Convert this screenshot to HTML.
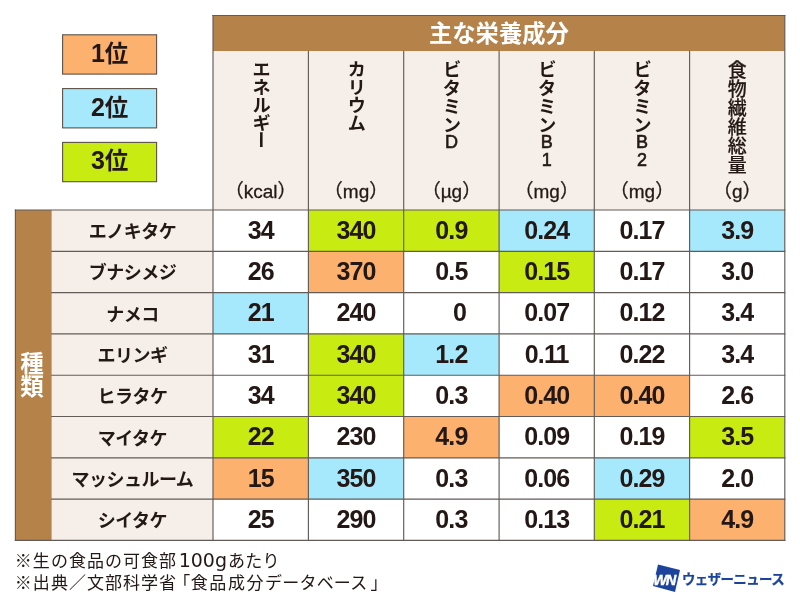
<!DOCTYPE html>
<html lang="ja"><head><meta charset="utf-8"><title>きのこの主な栄養成分</title>
<style>
html,body{margin:0;padding:0;background:#fff;}
body{width:800px;height:600px;position:relative;overflow:hidden;font-family:"Liberation Sans","Noto Sans CJK JP",sans-serif;color:#231815;}
.a{position:absolute;box-sizing:border-box;}
.lg{left:62.6px;width:94px;text-align:center;font-weight:700;font-size:23.5px;line-height:37px;white-space:nowrap;}
.lg b{font-size:25px;font-weight:700;}
.hd{color:#fff;font-weight:700;font-size:23.3px;text-align:center;line-height:33px;font-family:"Noto Sans CJK JP",sans-serif;}
.vt{writing-mode:vertical-rl;text-orientation:upright;font-family:"Noto Sans CJK JP","Liberation Sans",sans-serif;font-weight:700;white-space:nowrap;}
.k{font-size:18.5px;letter-spacing:-0.7px;}
.j{font-size:19px;letter-spacing:0;font-weight:500;-webkit-text-stroke:0.2px #231815;}
.lt{font-weight:400;-webkit-text-stroke:0.6px #231815;font-size:18px;line-height:20px;text-align:center;}
.un{font-size:19px;-webkit-text-stroke:0.3px #231815;text-align:center;white-space:nowrap;line-height:24px;}
.nm{font-family:"Noto Sans CJK JP",sans-serif;font-weight:700;font-size:18px;letter-spacing:-0.5px;text-align:center;white-space:nowrap;}
.v{font-weight:700;font-size:25px;letter-spacing:-0.9px;text-align:center;white-space:nowrap;}
.sy{color:#fff;font-weight:700;font-size:23.5px;text-align:center;}
.ft{left:14.8px;font-size:17px;font-family:"Noto Sans CJK JP",sans-serif;font-weight:400;white-space:nowrap;line-height:22px;letter-spacing:1.04px;}
.ft .n{font-family:"DejaVu Sans",sans-serif;font-size:19px;letter-spacing:0;line-height:10px;margin-left:1.5px;}
.ft .hk{letter-spacing:0.3px;margin-left:1px;}
.ft .br{margin-left:-3.9px;letter-spacing:0.5px;}
.ft .kj{letter-spacing:1.56px;}
.ft .kk{letter-spacing:0.2px;}
.ft .bl{margin-left:3px;}
</style></head>
<body>
<svg class="a" style="left:0;top:0" width="800" height="600" viewBox="0 0 800 600">
<rect x="62.60" y="34.80" width="94.00" height="39.30" fill="#fcb16f" stroke="#5e5146" stroke-width="1.1"/>
<rect x="62.60" y="88.60" width="94.00" height="39.30" fill="#a6e8fc" stroke="#5e5146" stroke-width="1.1"/>
<rect x="62.60" y="142.40" width="94.00" height="39.30" fill="#c8eb12" stroke="#5e5146" stroke-width="1.1"/>
<rect x="213.00" y="15.50" width="571.80" height="35.70" fill="#b5834a"/>
<rect x="213.00" y="51.20" width="571.80" height="158.80" fill="#f6eee8"/>
<rect x="15.40" y="210.00" width="36.40" height="330.40" fill="#b5834a"/>
<rect x="51.80" y="210.00" width="161.20" height="330.40" fill="#f6eee8"/>
<rect x="308.40" y="210.00" width="95.30" height="41.30" fill="#c8eb12"/>
<rect x="403.70" y="210.00" width="95.40" height="41.30" fill="#c8eb12"/>
<rect x="499.10" y="210.00" width="95.20" height="41.30" fill="#a6e8fc"/>
<rect x="689.60" y="210.00" width="95.20" height="41.30" fill="#a6e8fc"/>
<rect x="308.40" y="251.30" width="95.30" height="41.30" fill="#fcb16f"/>
<rect x="499.10" y="251.30" width="95.20" height="41.30" fill="#c8eb12"/>
<rect x="213.00" y="292.60" width="95.40" height="41.30" fill="#a6e8fc"/>
<rect x="308.40" y="333.90" width="95.30" height="41.30" fill="#c8eb12"/>
<rect x="403.70" y="333.90" width="95.40" height="41.30" fill="#a6e8fc"/>
<rect x="308.40" y="375.20" width="95.30" height="41.30" fill="#c8eb12"/>
<rect x="499.10" y="375.20" width="95.20" height="41.30" fill="#fcb16f"/>
<rect x="594.30" y="375.20" width="95.30" height="41.30" fill="#fcb16f"/>
<rect x="213.00" y="416.50" width="95.40" height="41.30" fill="#c8eb12"/>
<rect x="403.70" y="416.50" width="95.40" height="41.30" fill="#fcb16f"/>
<rect x="689.60" y="416.50" width="95.20" height="41.30" fill="#c8eb12"/>
<rect x="213.00" y="457.80" width="95.40" height="41.30" fill="#fcb16f"/>
<rect x="308.40" y="457.80" width="95.30" height="41.30" fill="#a6e8fc"/>
<rect x="594.30" y="457.80" width="95.30" height="41.30" fill="#a6e8fc"/>
<rect x="594.30" y="499.10" width="95.30" height="41.30" fill="#c8eb12"/>
<rect x="689.60" y="499.10" width="95.20" height="41.30" fill="#fcb16f"/>
<g stroke="#625b57" stroke-width="1.15" stroke-linecap="square">
<line x1="213.00" y1="15.50" x2="213.00" y2="540.40"/>
<line x1="308.40" y1="51.20" x2="308.40" y2="540.40"/>
<line x1="403.70" y1="51.20" x2="403.70" y2="540.40"/>
<line x1="499.10" y1="51.20" x2="499.10" y2="540.40"/>
<line x1="594.30" y1="51.20" x2="594.30" y2="540.40"/>
<line x1="689.60" y1="51.20" x2="689.60" y2="540.40"/>
<line x1="784.80" y1="15.50" x2="784.80" y2="540.40"/>
<line x1="15.40" y1="210.00" x2="15.40" y2="540.40"/>
<line x1="213.00" y1="15.50" x2="784.80" y2="15.50"/>
<line x1="15.40" y1="210.00" x2="784.80" y2="210.00"/>
<line x1="51.80" y1="251.30" x2="784.80" y2="251.30"/>
<line x1="51.80" y1="292.60" x2="784.80" y2="292.60"/>
<line x1="51.80" y1="333.90" x2="784.80" y2="333.90"/>
<line x1="51.80" y1="375.20" x2="784.80" y2="375.20"/>
<line x1="51.80" y1="416.50" x2="784.80" y2="416.50"/>
<line x1="51.80" y1="457.80" x2="784.80" y2="457.80"/>
<line x1="51.80" y1="499.10" x2="784.80" y2="499.10"/>
<line x1="15.40" y1="540.40" x2="784.80" y2="540.40"/>
</g></svg>
<div class="a lg" style="top:34.8px"><b>1</b>位</div>
<div class="a lg" style="top:88.6px"><b>2</b>位</div>
<div class="a lg" style="top:142.4px"><b>3</b>位</div>
<div class="a hd" style="left:213.0px;top:15.5px;width:571.8px">主な栄養成分</div>
<div class="a vt sy" style="left:13.6px;top:209.0px;width:36.4px;height:330.4px;line-height:36.4px">種類</div>
<div class="a vt k" style="left:213.0px;top:59.5px;width:95.4px;line-height:95.4px">エネルギー</div>
<div class="a un" style="left:213.0px;top:180.2px;width:95.4px">（kcal）</div>
<div class="a vt k" style="left:308.4px;top:59.5px;width:95.3px;line-height:95.3px">カリウム</div>
<div class="a un" style="left:308.4px;top:180.2px;width:95.3px">（mg）</div>
<div class="a vt k" style="left:403.7px;top:59.5px;width:95.4px;line-height:95.4px;letter-spacing:0">ビタミン</div>
<div class="a lt" style="left:403.7px;top:131.8px;width:95.4px">D</div>
<div class="a un" style="left:403.7px;top:180.2px;width:95.4px">（µg）</div>
<div class="a vt k" style="left:499.1px;top:59.5px;width:95.2px;line-height:95.2px;letter-spacing:0">ビタミン</div>
<div class="a lt" style="left:499.1px;top:131.8px;width:95.2px">B</div>
<div class="a lt" style="left:499.1px;top:150.2px;width:95.2px">1</div>
<div class="a un" style="left:499.1px;top:180.2px;width:95.2px">（mg）</div>
<div class="a vt k" style="left:594.3px;top:59.5px;width:95.3px;line-height:95.3px;letter-spacing:0">ビタミン</div>
<div class="a lt" style="left:594.3px;top:131.8px;width:95.3px">B</div>
<div class="a lt" style="left:594.3px;top:150.2px;width:95.3px">2</div>
<div class="a un" style="left:594.3px;top:180.2px;width:95.3px">（mg）</div>
<div class="a vt j" style="left:689.6px;top:60px;width:95.2px;line-height:95.2px">食物繊維総量</div>
<div class="a un" style="left:689.6px;top:180.2px;width:95.2px">（g）</div>
<div class="a nm" style="left:51.8px;top:210.00px;width:161.2px;line-height:41.30px">エノキタケ</div>
<div class="a v" style="left:213.0px;top:209.70px;width:95.4px;line-height:41.30px;">34</div>
<div class="a v" style="left:308.4px;top:209.70px;width:95.3px;line-height:41.30px;">340</div>
<div class="a v" style="left:403.7px;top:209.70px;width:95.4px;line-height:41.30px;">0.9</div>
<div class="a v" style="left:499.1px;top:209.70px;width:95.2px;line-height:41.30px;">0.24</div>
<div class="a v" style="left:594.3px;top:209.70px;width:95.3px;line-height:41.30px;">0.17</div>
<div class="a v" style="left:689.6px;top:209.70px;width:95.2px;line-height:41.30px;">3.9</div>
<div class="a nm" style="left:51.8px;top:251.30px;width:161.2px;line-height:41.30px">ブナシメジ</div>
<div class="a v" style="left:213.0px;top:251.00px;width:95.4px;line-height:41.30px;">26</div>
<div class="a v" style="left:308.4px;top:251.00px;width:95.3px;line-height:41.30px;">370</div>
<div class="a v" style="left:403.7px;top:251.00px;width:95.4px;line-height:41.30px;">0.5</div>
<div class="a v" style="left:499.1px;top:251.00px;width:95.2px;line-height:41.30px;">0.15</div>
<div class="a v" style="left:594.3px;top:251.00px;width:95.3px;line-height:41.30px;">0.17</div>
<div class="a v" style="left:689.6px;top:251.00px;width:95.2px;line-height:41.30px;">3.0</div>
<div class="a nm" style="left:51.8px;top:292.60px;width:161.2px;line-height:41.30px">ナメコ</div>
<div class="a v" style="left:213.0px;top:292.30px;width:95.4px;line-height:41.30px;">21</div>
<div class="a v" style="left:308.4px;top:292.30px;width:95.3px;line-height:41.30px;">240</div>
<div class="a v" style="left:403.7px;top:292.30px;width:95.4px;line-height:41.30px;padding-left:16px;">0</div>
<div class="a v" style="left:499.1px;top:292.30px;width:95.2px;line-height:41.30px;">0.07</div>
<div class="a v" style="left:594.3px;top:292.30px;width:95.3px;line-height:41.30px;">0.12</div>
<div class="a v" style="left:689.6px;top:292.30px;width:95.2px;line-height:41.30px;">3.4</div>
<div class="a nm" style="left:51.8px;top:333.90px;width:161.2px;line-height:41.30px">エリンギ</div>
<div class="a v" style="left:213.0px;top:333.60px;width:95.4px;line-height:41.30px;">31</div>
<div class="a v" style="left:308.4px;top:333.60px;width:95.3px;line-height:41.30px;">340</div>
<div class="a v" style="left:403.7px;top:333.60px;width:95.4px;line-height:41.30px;">1.2</div>
<div class="a v" style="left:499.1px;top:333.60px;width:95.2px;line-height:41.30px;">0.11</div>
<div class="a v" style="left:594.3px;top:333.60px;width:95.3px;line-height:41.30px;">0.22</div>
<div class="a v" style="left:689.6px;top:333.60px;width:95.2px;line-height:41.30px;">3.4</div>
<div class="a nm" style="left:51.8px;top:375.20px;width:161.2px;line-height:41.30px">ヒラタケ</div>
<div class="a v" style="left:213.0px;top:374.90px;width:95.4px;line-height:41.30px;">34</div>
<div class="a v" style="left:308.4px;top:374.90px;width:95.3px;line-height:41.30px;">340</div>
<div class="a v" style="left:403.7px;top:374.90px;width:95.4px;line-height:41.30px;">0.3</div>
<div class="a v" style="left:499.1px;top:374.90px;width:95.2px;line-height:41.30px;">0.40</div>
<div class="a v" style="left:594.3px;top:374.90px;width:95.3px;line-height:41.30px;">0.40</div>
<div class="a v" style="left:689.6px;top:374.90px;width:95.2px;line-height:41.30px;">2.6</div>
<div class="a nm" style="left:51.8px;top:416.50px;width:161.2px;line-height:41.30px">マイタケ</div>
<div class="a v" style="left:213.0px;top:416.20px;width:95.4px;line-height:41.30px;">22</div>
<div class="a v" style="left:308.4px;top:416.20px;width:95.3px;line-height:41.30px;">230</div>
<div class="a v" style="left:403.7px;top:416.20px;width:95.4px;line-height:41.30px;">4.9</div>
<div class="a v" style="left:499.1px;top:416.20px;width:95.2px;line-height:41.30px;">0.09</div>
<div class="a v" style="left:594.3px;top:416.20px;width:95.3px;line-height:41.30px;">0.19</div>
<div class="a v" style="left:689.6px;top:416.20px;width:95.2px;line-height:41.30px;">3.5</div>
<div class="a nm" style="left:51.8px;top:457.80px;width:161.2px;line-height:41.30px">マッシュルーム</div>
<div class="a v" style="left:213.0px;top:457.50px;width:95.4px;line-height:41.30px;">15</div>
<div class="a v" style="left:308.4px;top:457.50px;width:95.3px;line-height:41.30px;">350</div>
<div class="a v" style="left:403.7px;top:457.50px;width:95.4px;line-height:41.30px;">0.3</div>
<div class="a v" style="left:499.1px;top:457.50px;width:95.2px;line-height:41.30px;">0.06</div>
<div class="a v" style="left:594.3px;top:457.50px;width:95.3px;line-height:41.30px;">0.29</div>
<div class="a v" style="left:689.6px;top:457.50px;width:95.2px;line-height:41.30px;">2.0</div>
<div class="a nm" style="left:51.8px;top:499.10px;width:161.2px;line-height:41.30px">シイタケ</div>
<div class="a v" style="left:213.0px;top:498.80px;width:95.4px;line-height:41.30px;">25</div>
<div class="a v" style="left:308.4px;top:498.80px;width:95.3px;line-height:41.30px;">290</div>
<div class="a v" style="left:403.7px;top:498.80px;width:95.4px;line-height:41.30px;">0.3</div>
<div class="a v" style="left:499.1px;top:498.80px;width:95.2px;line-height:41.30px;">0.13</div>
<div class="a v" style="left:594.3px;top:498.80px;width:95.3px;line-height:41.30px;">0.21</div>
<div class="a v" style="left:689.6px;top:498.80px;width:95.2px;line-height:41.30px;">4.9</div>
<div class="a ft" style="top:549px">※生の食品の可食部<span class="n">100g</span><span class="hk">あたり</span></div>
<div class="a ft" style="top:571px">※出典／文部科学省<span class="br">「</span><span class="kj">食品成分</span><span class="kk">データベース</span><span class="bl">」</span></div>
<svg class="a" style="left:650px;top:560px" width="140" height="38" viewBox="0 0 140 38">
<polygon points="8,4.5 30,10 25,32 3,26" fill="#1c449c"/>
<text x="3.2" y="25" font-family="Liberation Sans, sans-serif" font-weight="700" font-style="italic" font-size="14.6" fill="#fff" stroke="#fff" stroke-width="0.45" letter-spacing="-1.3">WN</text>
<text x="32" y="23.8" font-family="Noto Sans CJK JP, sans-serif" font-weight="700" font-size="13.4" fill="#1c449c" stroke="#1c449c" stroke-width="0.25" letter-spacing="-0.55">ウェザーニュース</text>
</svg>
</body></html>
